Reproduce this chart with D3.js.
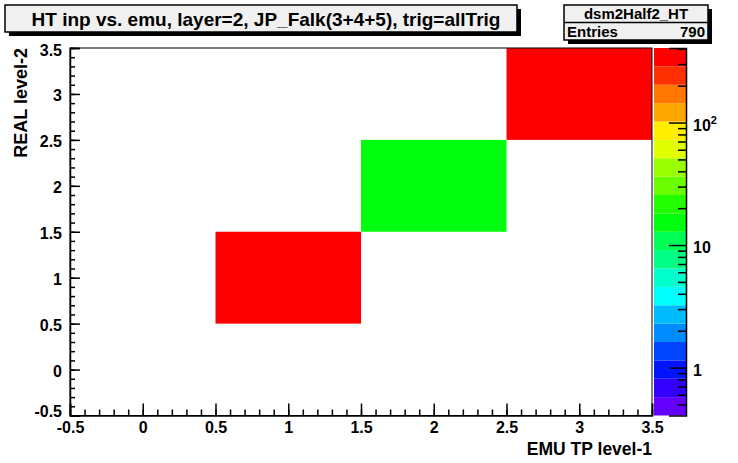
<!DOCTYPE html>
<html><head><meta charset="utf-8">
<script src="https://cdn.jsdelivr.net/npm/d3@7"></script>
<style>
html,body{margin:0;padding:0;background:#fff;}
svg text{font-family:"Liberation Sans Narrow","Arial Narrow","Liberation Sans",Arial,sans-serif;font-weight:bold;}
</style></head>
<body>
<svg id="c" width="738" height="463"></svg>
<script>
// ---- data ----
const xCenters = [1, 2, 3];
const yCenters = [1, 2, 3];
const counts   = [369, 15, 406];
const xTicks = [-0.5, 0, 0.5, 1, 1.5, 2, 2.5, 3, 3.5];
const yTicks = [-0.5, 0, 0.5, 1, 1.5, 2, 2.5, 3, 3.5];
const zTicks = [1, 10, 100];
const zMinor = [0.5,0.6,0.7,0.8,0.9,2,3,4,5,6,7,8,9,20,30,40,50,60,70,80,90,200,300,400];
const palette = ["#6300ff","#3300ff","#0014ff","#0044ff","#008bff","#00bbff","#00fffc","#00ffcc","#00ff85","#00ff55",
                 "#00ff0e","#22ff00","#69ff00","#99ff00","#e0ff00","#ffee00","#ffa700","#ff7700","#ff3000","#ff0000"];
const titleText = "HT inp vs. emu, layer=2, JP_Falk(3+4+5), trig=allTrig";
const histName = "dsm2Half2_HT";
const xTitle = "EMU TP level-1";
const yTitle = "REAL level-2";

// ---- layout ----
const L = 70, R = 652, T = 48, B = 415.5;
const barL = 654, barR = 686;
const svg = d3.select("#c");

const x = d3.scaleLinear().domain([-0.5, 3.5]).range([L, R]);
const y = d3.scaleLinear().domain([-0.5, 3.5]).range([B, T]);
const zMax = d3.max(counts), zMin = Math.min(1, 0.001 * zMax);
const z = d3.scaleLog().domain([zMin, zMax]).range([B, T]);
const nLev = palette.length;
const colorOf = v => {
  let i = Math.floor(nLev * Math.log(v / zMin) / Math.log(zMax / zMin));
  return palette[Math.max(0, Math.min(nLev - 1, i))];
};

// cells
svg.append("g").selectAll("rect").data(counts).join("rect")
  .attr("x", (d, i) => x(xCenters[i] - 0.5))
  .attr("y", (d, i) => y(yCenters[i] + 0.5))
  .attr("width", (d, i) => x(xCenters[i] + 0.5) - x(xCenters[i] - 0.5))
  .attr("height", (d, i) => y(yCenters[i] - 0.5) - y(yCenters[i] + 0.5))
  .attr("fill", d => colorOf(d));

// frame
svg.append("rect").attr("x", L).attr("y", T).attr("width", R - L).attr("height", B - T)
  .attr("fill", "none").attr("stroke", "#000").attr("stroke-width", 1);

// x axis
const xMinor = d3.range(-5, 36).map(v => v / 10);
const gx = svg.append("g").attr("transform", `translate(0,${B})`);
gx.call(d3.axisBottom(x).tickValues(xMinor).tickSize(-6).tickFormat(""))
gx.call(g => g.select(".domain").remove());
const gx2 = svg.append("g").attr("transform", `translate(0,${B})`);
gx2.call(d3.axisBottom(x).tickValues(xTicks).tickSize(-12).tickFormat(d => String(d)));
gx2.select(".domain").attr("stroke-width", 1.5);
gx2.selectAll("text").attr("font-size", 16).attr("fill", "#000").attr("dy", 0).attr("y", 17);

// y axis
const yMinor = d3.range(-5, 36).map(v => v / 10);
const gy = svg.append("g").attr("transform", `translate(${L},0)`);
gy.call(d3.axisLeft(y).tickValues(yMinor).tickSize(-5).tickFormat(""));
gy.select(".domain").remove();
const gy2 = svg.append("g").attr("transform", `translate(${L},0)`);
gy2.call(d3.axisLeft(y).tickValues(yTicks).tickSize(-10).tickFormat(d => String(d)));
gy2.select(".domain").attr("stroke-width", 1.5);
gy2.selectAll("text").attr("font-size", 16).attr("fill", "#000").attr("x", -8).attr("dy", 0)
  .attr("y", d => d === -0.5 ? 1 : 7);
svg.selectAll("g.tick line").attr("stroke-width", 1.5);

// color bar
const levels = d3.range(nLev + 1).map(i => zMin * Math.pow(zMax / zMin, i / nLev));
svg.append("g").selectAll("rect").data(palette).join("rect")
  .attr("x", barL).attr("width", barR - barL)
  .attr("y", (d, i) => z(levels[i + 1]))
  .attr("height", (d, i) => z(levels[i]) - z(levels[i + 1]))
  .attr("fill", d => d);
const gz = svg.append("g").attr("transform", `translate(${barR},0)`);
gz.call(d3.axisRight(z).tickValues(zMinor).tickSize(-8).tickFormat(""));
gz.select(".domain").remove();
const gz2 = svg.append("g").attr("transform", `translate(${barR},0)`);
gz2.call(d3.axisRight(z).tickValues(zTicks).tickSize(-17).tickFormat(""));
gz2.select(".domain").attr("stroke-width", 1.5);
gz.selectAll("line").attr("stroke-width", 1.5);
gz2.selectAll("line").attr("stroke-width", 1.5);
zTicks.forEach(v => {
  const e = Math.round(Math.log10(v));
  const t = svg.append("text").attr("x", 693).attr("y", z(v) + 8).attr("font-size", 16);
  if (e <= 1) t.text(String(v));
  else { t.text("10"); t.append("tspan").attr("dy", -7).attr("font-size", 11).text(String(e)); }
});

// axis titles
svg.append("text").attr("x", R).attr("y", 455).attr("text-anchor", "end").attr("font-size", 17.5).text(xTitle);
svg.append("text").attr("transform", `translate(27,${T}) rotate(-90)`).attr("text-anchor", "end").attr("font-size", 18).text(yTitle);

// title box
svg.append("rect").attr("x", 9).attr("y", 9).attr("width", 512).attr("height", 27).attr("fill", "#000");
svg.append("rect").attr("x", 5).attr("y", 5).attr("width", 512).attr("height", 27).attr("fill", "#f0f0f0").attr("stroke", "#000").attr("stroke-width", 1.5);
svg.append("text").attr("x", 266).attr("y", 26).attr("text-anchor", "middle").attr("font-size", 19).text(titleText);

// stats box
svg.append("rect").attr("x", 568).attr("y", 9).attr("width", 144).attr("height", 35).attr("fill", "#000");
svg.append("rect").attr("x", 564).attr("y", 5).attr("width", 144).attr("height", 35).attr("fill", "#f0f0f0").attr("stroke", "#000").attr("stroke-width", 1.5);
svg.append("line").attr("x1", 564).attr("x2", 708).attr("y1", 22.5).attr("y2", 22.5).attr("stroke", "#000").attr("stroke-width", 1.5);
svg.append("text").attr("x", 636).attr("y", 19).attr("text-anchor", "middle").attr("font-size", 15).text(histName);
svg.append("text").attr("x", 567).attr("y", 37).attr("font-size", 15).text("Entries");
svg.append("text").attr("x", 705).attr("y", 37).attr("text-anchor", "end").attr("font-size", 15).text(String(d3.sum(counts)));
</script>
</body></html>
